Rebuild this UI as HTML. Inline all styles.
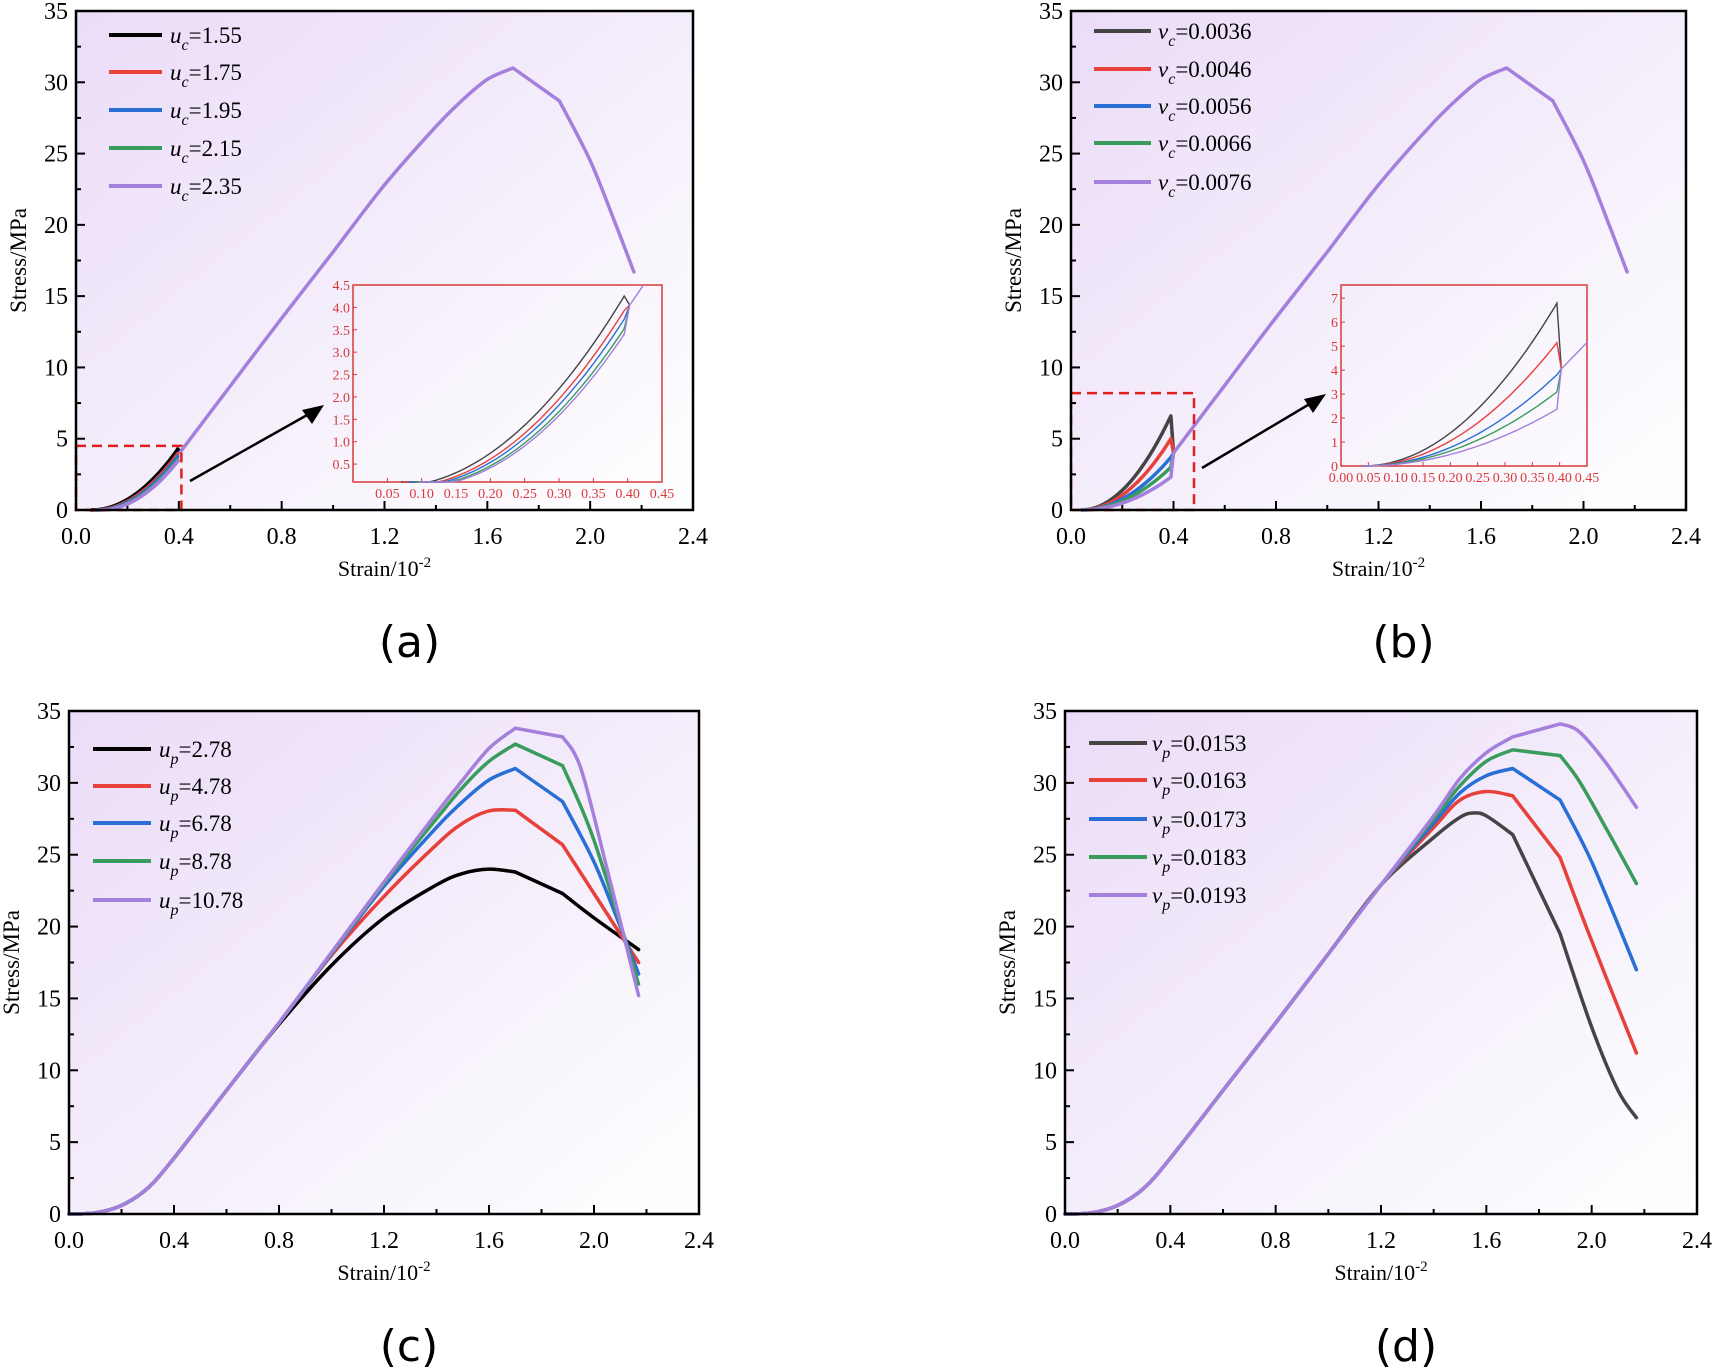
<!DOCTYPE html>
<html><head><meta charset="utf-8"><style>
html,body{margin:0;padding:0;background:#fff;}
svg{display:block}
text{font-family:"Liberation Serif",serif;}
</style></head><body>
<svg id="s" width="1716" height="1372" xmlns="http://www.w3.org/2000/svg">
<defs>
<linearGradient id="bg" x1="0" y1="0" x2="1" y2="1">
<stop offset="0" stop-color="#ebdcf8"/><stop offset="0.55" stop-color="#f5effb"/><stop offset="1" stop-color="#ffffff"/>
</linearGradient>
</defs>
</svg>
<script>
const S=document.getElementById('s');const NS='http://www.w3.org/2000/svg';
function el(t,a,txt){const e=document.createElementNS(NS,t);for(const k in a)e.setAttribute(k,a[k]);if(txt!==undefined)e.textContent=txt;S.appendChild(e);return e;}
function crSeg(pts,first){let d=first?'M'+pts[0][0].toFixed(1)+','+pts[0][1].toFixed(1):'';
 for(let i=0;i<pts.length-1;i++){const p0=pts[Math.max(0,i-1)],p1=pts[i],p2=pts[i+1],p3=pts[Math.min(pts.length-1,i+2)];
 const c1=[p1[0]+(p2[0]-p0[0])/6,p1[1]+(p2[1]-p0[1])/6],c2=[p2[0]-(p3[0]-p1[0])/6,p2[1]-(p3[1]-p1[1])/6];
 d+=' C'+c1[0].toFixed(1)+','+c1[1].toFixed(1)+' '+c2[0].toFixed(1)+','+c2[1].toFixed(1)+' '+p2[0].toFixed(1)+','+p2[1].toFixed(1);}return d;}
function cr(pts){return crSeg(pts,true);}
function lin(pts){return 'M'+pts.map(p=>p[0].toFixed(1)+','+p[1].toFixed(1)).join(' L');}
const COL=['#000','#e8403a','#2a6fd6','#3a9c5c','#a47fdc'];
const COL2=['#444','#e8403a','#2a6fd6','#3a9c5c','#a47fdc'];
function panel(P){
 const X=x=>P.L+(x/2.4)*(P.R-P.L),Y=y=>P.B-(y/35)*(P.B-P.T);
 el('rect',{x:P.L,y:P.T,width:P.R-P.L,height:P.B-P.T,fill:'url(#bg)'});
 for(let i=0;i<=12;i++){const x=X(i*0.2),len=i%2?5:9;el('line',{x1:x,y1:P.B,x2:x,y2:P.B-len,stroke:'#000','stroke-width':2});
  if(i%2==0){el('text',{x:x,y:P.B+34,'text-anchor':'middle','font-size':24},(i*0.2).toFixed(1));}}
 for(let i=0;i<=14;i++){const y=Y(i*2.5),len=i%2?5:9;el('line',{x1:P.L,y1:y,x2:P.L+len,y2:y,stroke:'#000','stroke-width':2});
  if(i%2==0){el('text',{x:P.L-8,y:y+8,'text-anchor':'end','font-size':24},String(i*2.5));}}
 el('text',{x:(P.L+P.R)/2,y:P.B+66,'text-anchor':'middle','font-size':22},'Strain/10').innerHTML='Strain/10<tspan dy="-9" font-size="15">-2</tspan>';
 el('text',{x:0,y:0,'text-anchor':'middle','font-size':23,transform:`translate(${P.L-50},${(P.T+P.B)/2}) rotate(-90)`},'Stress/MPa');
 el('text',{x:(P.L+P.R)/2+25,y:P.B+147,'text-anchor':'middle','font-size':44,style:'font-family:"DejaVu Sans",sans-serif'},P.lab);
 P.X=X;P.Y=Y;return P;}
function frame(P){el('rect',{x:P.L,y:P.T,width:P.R-P.L,height:P.B-P.T,fill:'none',stroke:'#000','stroke-width':2.5});}
function legend(P,x0,x1,tx,rows,sym,sub,vals,cols){
 rows.forEach((y,i)=>{el('line',{x1:x0,y1:y,x2:x1,y2:y,stroke:cols[i],'stroke-width':4});
 el('text',{x:tx,y:y+8,'font-size':23}).innerHTML=`<tspan font-style="italic">${sym}</tspan><tspan font-style="italic" font-size="16" dy="7">${sub}</tspan><tspan dy="-7">=${vals[i]}</tspan>`;});}
// smooth up to x<=1.7, straight 1.7->1.88, smooth afterwards
function curve(P,pts,c,w,k1,k2){k1=k1===undefined?1.7:k1;k2=k2===undefined?1.88:k2;
 const m=pts.map(p=>[P.X(p[0]),P.Y(p[1])]);
 const a=[],b=[];let mid=[];
 pts.forEach((p,i)=>{if(p[0]<=k1+1e-9)a.push(m[i]);if(p[0]>=k2-1e-9)b.push(m[i]);});
 let d=cr(a);
 if(b.length){d+=' L'+b[0][0].toFixed(1)+','+b[0][1].toFixed(1);if(b.length>1)d+=crSeg(b,false);}
 el('path',{d:d,fill:'none',stroke:c,'stroke-width':w||3.5,'stroke-linejoin':'round','stroke-linecap':'round'});}
const pre=[[0,0],[0.1,0.08],[0.2,0.6],[0.3,1.8],[0.405,4.0],[0.6,8.6],[0.8,13.3]];
const postBase=[[1.0,18.1],[1.2,22.8],[1.4,26.9],[1.5,28.7],[1.6,30.2],[1.7,31],[1.88,28.7],[2.0,24.5],[2.1,20],[2.17,16.7]];
// ---------- (a)
let A=panel({L:76,R:693,T:11,B:510,lab:'(a)'});
[0.06,0.073,0.081,0.09,0.0955].forEach((x0,i)=>{const pts=[];for(let x=x0;x<=0.396;x+=0.03)pts.push([x,37.9*(x-x0)**2]);pts.push([0.396,37.9*(0.396-x0)**2]);
 if(i==0)pts.push([0.405,4.05]);curve(A,pts,COL[i],3.5,9,9);});
curve(A,[[0.405,4.05],[0.6,8.7],[0.8,13.45],...postBase],COL[4],3.5);
el('rect',{x:A.X(0),y:A.Y(4.5),width:A.X(0.41)-A.X(0),height:A.Y(0)-A.Y(4.5),fill:'none',stroke:'#e02020','stroke-width':2.5,'stroke-dasharray':'10,6'});
el('line',{x1:190,y1:481,x2:316,y2:410,stroke:'#000','stroke-width':2.5});
el('path',{d:'M324,405 L302,410 L312,424 z',fill:'#000'});
function inset(I,xmin,xmax,ymin,ymax,xt,yt,xfmt,yfmt){
 const X=x=>I.L+(x-xmin)/(xmax-xmin)*(I.R-I.L),Y=y=>I.B-(y-ymin)/(ymax-ymin)*(I.B-I.T);
 el('rect',{x:I.L,y:I.T,width:I.R-I.L,height:I.B-I.T,fill:'none',stroke:'#d83a3a','stroke-width':1.5});
 xt.forEach(v=>{el('line',{x1:X(v),y1:I.B,x2:X(v),y2:I.B-4,stroke:'#d83a3a','stroke-width':1});el('text',{x:X(v),y:I.B+16,'text-anchor':'middle','font-size':14,fill:'#d83a3a'},v.toFixed(xfmt));});
 yt.forEach(v=>{el('line',{x1:I.L,y1:Y(v),x2:I.L+4,y2:Y(v),stroke:'#d83a3a','stroke-width':1});el('text',{x:I.L-3,y:Y(v)+5,'text-anchor':'end','font-size':14,fill:'#d83a3a'},v.toFixed(yfmt));});
 return {X,Y};}
let IA=inset({L:353,R:662,T:285,B:482},0,0.45,0.1,4.5,[0.05,0.1,0.15,0.2,0.25,0.3,0.35,0.4,0.45],[0.5,1,1.5,2,2.5,3,3.5,4,4.5],2,1);
function icurve(I,pts,c){el('path',{d:lin(pts.map(p=>[I.X(p[0]),I.Y(p[1])])),fill:'none',stroke:c,'stroke-width':1.4});}
[0.06,0.073,0.081,0.09,0.0955].forEach((x0,i)=>{const pts=[];for(let x=Math.max(x0,0.07);x<=0.395;x+=0.01)pts.push([x,Math.max(0.1,37.9*(x-x0)**2)]);pts.push([0.395,37.9*(0.395-x0)**2]);pts.push([0.403,4.05]);if(i==4)pts.push([0.423,4.5]);icurve(IA,pts,['#444',COL[1],COL[2],COL[3],COL[4]][i]);});
legend(A,109,162,170,[35,72,110,148,186],'u','c',['1.55','1.75','1.95','2.15','2.35'],COL);
frame(A);
// ---------- (b)
let B=panel({L:1071,R:1686,T:11,B:510,lab:'(b)'});
const kb=[53.9,40.8,30.2,24.5,18.8];
kb.forEach((k,i)=>{const pts=[];for(let x=0.04;x<=0.39;x+=0.035)pts.push([x,k*(x-0.04)**2]);pts.push([0.39,k*0.35**2]);
 const path=cr(pts.map(p=>[B.X(p[0]),B.Y(p[1])]))+' L'+B.X(0.4).toFixed(1)+','+B.Y(4).toFixed(1);
 el('path',{d:path,fill:'none',stroke:COL2[i],'stroke-width':3.5,'stroke-linejoin':'round'});});
curve(B,[[0.4,4],[0.6,8.75],[0.8,13.5],...postBase],COL2[4],3.5);
el('rect',{x:B.X(0),y:B.Y(8.2),width:B.X(0.48)-B.X(0),height:B.Y(0)-B.Y(8.2),fill:'none',stroke:'#e02020','stroke-width':2.5,'stroke-dasharray':'10,6'});
el('line',{x1:1202,y1:468,x2:1318,y2:399,stroke:'#000','stroke-width':2.5});
el('path',{d:'M1326,394 L1304,399 L1313,413 z',fill:'#000'});
let IB=inset({L:1341,R:1587,T:285,B:466},0,0.45,0,7.55,[0,0.05,0.1,0.15,0.2,0.25,0.3,0.35,0.4,0.45],[0,1,2,3,4,5,6,7],2,0);
kb.forEach((k,i)=>{const pts=[];for(let x=0.04;x<=0.395;x+=0.01)pts.push([x,k*(x-0.04)**2]);pts.push([0.395,k*0.355**2]);pts.push([0.403,4.05]);if(i==4)pts.push([0.45,5.15]);icurve(IB,pts,['#444',COL[1],COL[2],COL[3],COL[4]][i]);});
legend(B,1094,1151,1158,[31,69,106,143,182],'v','c',['0.0036','0.0046','0.0056','0.0066','0.0076'],COL2);
frame(B);
// ---------- (c)
let C=panel({L:69,R:699,T:711,B:1214,lab:'(c)'});
const cdat=[
[[0.8,13.2],[1.0,17.3],[1.2,20.6],[1.4,22.9],[1.5,23.7],[1.6,24],[1.7,23.8],[1.88,22.3],[2.0,20.6],[2.17,18.4]],
[[1.0,18.0],[1.2,22.1],[1.4,25.7],[1.5,27.2],[1.6,28.05],[1.7,28.1],[1.88,25.7],[2.0,22.3],[2.17,17.5]],
postBase,
[[1.0,18.15],[1.2,23],[1.4,27.5],[1.5,29.7],[1.6,31.5],[1.7,32.7],[1.88,31.2],[2.0,26],[2.17,16]],
[[1.0,18.2],[1.2,23.1],[1.4,27.9],[1.5,30.2],[1.6,32.4],[1.7,33.8],[1.88,33.2],[1.95,31],[2.05,24],[2.17,15.2]]];
cdat.forEach((d,i)=>{const base=i==0?pre.slice(0,6):pre;curve(C,[...base,...d],COL[i],3.5);});
legend(C,93,151,159,[749,786,823,861,900],'u','p',['2.78','4.78','6.78','8.78','10.78'],COL);
frame(C);
// ---------- (d)
let D=panel({L:1065,R:1697,T:711,B:1214,lab:'(d)'});
const pre2=[...pre,[1.0,18.1],[1.2,22.9]];
const ddat=[
[[1.4,26.2],[1.5,27.6],[1.55,27.9],[1.6,27.7],[1.7,26.4],[1.88,19.5],[2.0,13],[2.1,8.6],[2.17,6.7]],
[[1.4,26.9],[1.5,28.8],[1.6,29.4],[1.7,29.1],[1.88,24.8],[2.0,19],[2.17,11.2]],
[[1.4,27.2],[1.5,29.3],[1.6,30.5],[1.7,31],[1.88,28.8],[2.0,24.5],[2.17,17]],
[[1.4,27.5],[1.5,29.8],[1.6,31.5],[1.7,32.3],[1.88,31.9],[1.95,30.2],[2.05,27],[2.17,23]],
[[1.4,27.7],[1.5,30.3],[1.6,32.1],[1.7,33.2],[1.88,34.1],[1.95,33.6],[2.05,31.5],[2.17,28.3]]];
ddat.forEach((d,i)=>curve(D,[...pre2,...d],COL2[i],3.5));
legend(D,1089,1147,1152,[743,780,819,857,895],'v','p',['0.0153','0.0163','0.0173','0.0183','0.0193'],COL2);
frame(D);
</script>
</body></html>
